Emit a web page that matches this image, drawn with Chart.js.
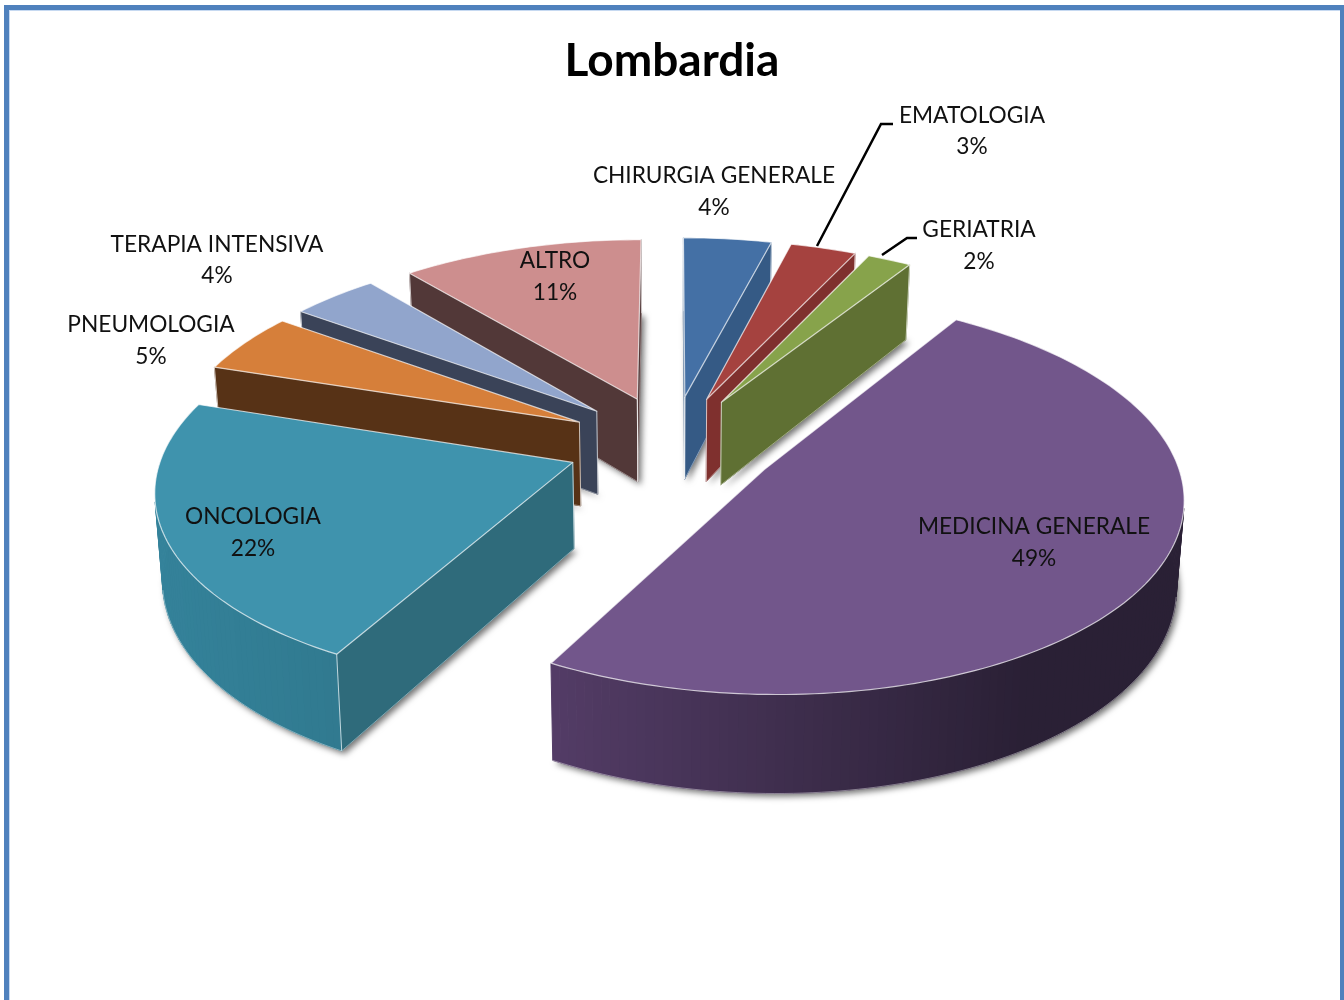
<!DOCTYPE html>
<html><head><meta charset="utf-8">
<style>
html,body{margin:0;padding:0;background:#fff;overflow:hidden}
#wrap{position:relative;width:1344px;height:1000px;overflow:hidden}
#frame{position:absolute;left:4px;top:5px;width:1331px;height:1100px;border:5px solid #4f81bd;box-shadow:inset 1px 1px 0 #c6d9f1}
canvas{position:absolute;left:0;top:0}
</style>
<script src="https://cdn.jsdelivr.net/npm/chart.js@4"></script>
</head><body>
<div id="wrap"><div id="frame"></div><canvas id="c" width="1344" height="1000"></canvas></div>
<script>
const categories=["CHIRURGIA GENERALE","EMATOLOGIA","GERIATRIA","MEDICINA GENERALE","ONCOLOGIA","PNEUMOLOGIA","TERAPIA INTENSIVA","ALTRO"];
const values=[4,3,2,49,22,5,4,11];
const percentLabels=["4%","3%","2%","49%","22%","5%","4%","11%"];
const topColors=["#4470a5","#a5423f","#87a34b","#72568b","#3f93ad","#d67f3a","#91a5cc","#cd8e8e"];
const faceColors=["#355a85","#7f302e","#5f7033","#3c2d4a","#2f6b7b","#573216","#3a4358","#523838"];
const rimLeft=["#355a85","#7f302e","#5f7033","#533c66","#34829a","#573216","#3a4358","#523838"];
const rimRight=["#355a85","#7f302e","#5f7033","#2a2035","#2e7488","#573216","#3a4358","#523838"];
const labelCenters=[[714,176,208],[972,116,147],[979,230,262],[1034,527,559],[253,517,549],[151,325,357],[217,245,276],[555,261,293]];
const leaders=[[[817,246],[881,124],[893,124]],[[882,255],[907,238],[917,238]]];
const view={A:408,B:190,persp:0.125,height:85,taper:0.015};

function hex(c){return [1,3,5].map(i=>parseInt(c.substr(i,2),16));}
function mix(a,b,t){const x=hex(a),y=hex(b);return 'rgb('+x.map((v,i)=>Math.round(v+(y[i]-v)*t)).join(',')+')';}

const pie3d={
  id:'pie3d',
  beforeDatasetDraw(chart,args){
    const ctx=chart.ctx, meta=chart.getDatasetMeta(args.index);
    const items=meta.data.map((el,i)=>{
      const p=el.getProps(['x','y','startAngle','endAngle','outerRadius'],true);
      const mid=(p.startAngle+p.endAngle)/2, e=el.options.offset/p.outerRadius;
      return {i,p,mid,e,vu:e*Math.cos(mid),vv:e*Math.sin(mid)};
    }).sort((a,b)=>a.vv-b.vv);
    for(const s of items){
      const {p,i}=s;
      const proj=(u,v,z)=>{
        const w=1/(1-view.persp*v);
        return [p.x+view.A*u*w*(1-view.taper*z), p.y+view.B*v*w+view.height*z*w];
      };
      const n=Math.max(4,Math.ceil((p.endAngle-p.startAngle)/0.02));
      const plan=[[s.vu,s.vv]];
      for(let k=0;k<=n;k++){
        const a=p.startAngle+(p.endAngle-p.startAngle)*k/n;
        plan.push([s.vu+Math.cos(a),s.vv+Math.sin(a)]);
      }
      const tp=plan.map(q=>proj(q[0],q[1],0));
      const bt=plan.map(q=>proj(q[0],q[1],1));
      const poly=(pts,fill,stroke,lw)=>{
        ctx.beginPath();pts.forEach((q,j)=>j?ctx.lineTo(q[0],q[1]):ctx.moveTo(q[0],q[1]));ctx.closePath();
        if(fill){ctx.fillStyle=fill;ctx.fill();}
        if(stroke){ctx.strokeStyle=stroke;ctx.lineWidth=lw||1;ctx.stroke();}
      };
      ctx.save();
      ctx.lineJoin='round';
      ctx.save();
      ctx.shadowColor='rgba(0,0,0,0.55)';ctx.shadowBlur=6;ctx.shadowOffsetX=3;ctx.shadowOffsetY=3;
      poly(bt,faceColors[i]);
      ctx.restore();
      const xs=tp.map(q=>q[0]), xmin=Math.min(...xs), xmax=Math.max(...xs);
      const m=plan.length;
      const visible=[];
      for(let j=0;j<m;j++){
        const j2=(j+1)%m, q=[tp[j],tp[j2],bt[j2],bt[j]];
        let area=0;for(let t=0;t<4;t++){const a=q[t],b=q[(t+1)%4];area+=a[0]*b[1]-b[0]*a[1];}
        if(area<0){
          const radial=(j===0||j===m-1);
          const t=(q[0][0]+q[1][0])/2;
          const col=radial?faceColors[i]:mix(rimLeft[i],rimRight[i],Math.min(1,(t-xmin)/(xmax-xmin)/0.75));
          poly(q,col,col,1);
          visible.push(j);
        }
      }
      ctx.strokeStyle='rgba(255,255,255,0.7)';ctx.lineWidth=1;
      for(const j of visible){
        const j2=(j+1)%m;
        if(j===0||j===m-1){
          ctx.beginPath();ctx.moveTo(tp[j2][0],tp[j2][1]);ctx.lineTo(bt[j2][0],bt[j2][1]);
          ctx.moveTo(tp[j][0],tp[j][1]);ctx.lineTo(bt[j][0],bt[j][1]);ctx.stroke();
        }
      }
      ctx.strokeStyle='rgba(255,255,255,0.4)';
      ctx.beginPath();
      visible.forEach(j=>{const j2=(j+1)%m;ctx.moveTo(bt[j][0],bt[j][1]);ctx.lineTo(bt[j2][0],bt[j2][1]);});
      ctx.stroke();
      poly(tp,topColors[i],'rgba(255,255,255,0.7)',1.2);
      ctx.restore();
    }
    return false;
  },
  afterDatasetsDraw(chart){
    const ctx=chart.ctx;
    ctx.save();
    ctx.strokeStyle='#000';ctx.lineWidth=2.5;
    leaders.forEach(l=>{ctx.beginPath();l.forEach((q,j)=>j?ctx.lineTo(q[0],q[1]):ctx.moveTo(q[0],q[1]));ctx.stroke();});
    ctx.fillStyle='#111';ctx.font='22.7px Lato';ctx.textAlign='center';ctx.textBaseline='middle';
    categories.forEach((c,i)=>{
      const q=labelCenters[i];
      ctx.fillText(c,q[0],q[1]);
      ctx.fillText(percentLabels[i],q[0],q[2]);
    });
    ctx.restore();
  }
};

new Chart(document.getElementById('c'),{
  type:'pie',
  data:{labels:categories,datasets:[{data:values,backgroundColor:topColors,borderWidth:0,offset:81}]},
  options:{
    responsive:false,animation:false,rotation:0,
    layout:{padding:{top:0,bottom:202,left:0,right:0}},
    plugins:{
      legend:{display:false},tooltip:{enabled:false},
      title:{display:true,text:'Lombardia',color:'#000',font:{family:'Lato',size:46,weight:'bold'},padding:{top:34,bottom:1}}
    }
  },
  plugins:[pie3d]
});
</script>
</body></html>
